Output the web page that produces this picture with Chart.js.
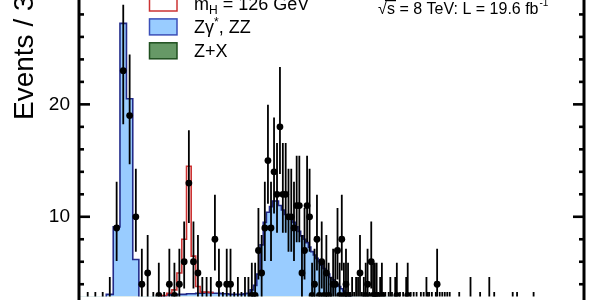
<!DOCTYPE html>
<html><head><meta charset="utf-8">
<script src="https://cdn.jsdelivr.net/npm/chart.js@4.4.0/dist/chart.umd.min.js"></script>
<style>html,body{margin:0;padding:0;background:#fff;overflow:hidden}</style>
</head><body>
<canvas id="c" width="600" height="300"></canvas>
<script>
// ---- binning of the m4l histogram (GeV) ----
const binStart = 70.5;
const binWidth = 3;

// ---- observed events per 3 GeV bin (bin i starts at 70.5 + 3*i GeV) ----
const dataCounts = [
  0,1,1,1,2,9,23,19,10,4,
  5,1,3,1,4,3,4,6,13,6,
  5,2,2,2,8,4,1,4,4,1,
  2,1,2,2,3,3,7,5,9,15,
  9,14,12,18,12,12,10,10,9,11,
  11,5,7,11,10,3,4,8,3,6,
  3,5,3,2,4,4,7,3,8,3,
  4,3,1,2,1,2,2,5,1,2,
  3,4,1,6,3,3,3,1,2,3,
  1,1,0,1,2,1,0,2,3,0,
  1,0,1,0,2,3,0,1,0,1,
  0,1,0,0,1,0,1,0,2,1,
  1,0,1,0,0,1,4,0,1,0,
  1,0,1,0,1,0,1,0,0,0,
  0,0,0,0,1,0,0,0,0,0,
  0,0,0,0,2,0,0,0,0,0,
  0,0,0,1,0,0,0,0,0,0,
  0,0,2,0,0,0,0,1,0,0,
  0,0,0,0,0,0,0,0,0,0,
  0,0,0,0,0,0,0,1,0,0,
  0,0,1,0,0,0,0,0,0,0,
  0,0,0,0,0,0,0,0,0,0,
  0,0,1,0,0,0,0
];

// ---- expected Zgamma*, ZZ per bin ----
const zzValues = [
  0.35,0.54,0.83,1.42,3.01,9.0,27.1,20.4,6.1,2.5,
  2.18,2.27,2.56,2.8,2.89,2.93,2.92,2.91,2.95,2.95,
  2.99,2.99,3.03,3.03,2.98,2.98,2.93,2.93,2.88,2.88,
  2.88,2.89,2.94,2.99,3.3,3.7,4.7,7.3,9.31,10.21,
  10.72,11.22,11.23,10.83,10.44,10.04,9.85,9.65,9.36,8.96,
  8.57,8.17,7.88,7.58,7.19,6.79,6.5,6.2,5.9,5.61,
  5.31,5.01,4.82,4.52,4.32,4.13,3.93,3.73,3.54,3.34,
  3.14,2.99,2.85,2.75,2.65,2.55,2.45,2.36,2.31,2.26,
  2.16,2.06,2.01,1.97,1.87,1.82,1.77,1.72,1.67,1.62,
  1.57,1.53,1.48,1.43,1.38,1.33,1.28,1.23,1.18,1.13
];

// ---- expected Z+X per bin ----
const zxValues = [
  0.05,0.06,0.07,0.08,0.09,0.1,0.1,0.1,0.1,0.1,
  0.12,0.13,0.14,0.15,0.16,0.17,0.18,0.19,0.2,0.2,
  0.21,0.21,0.22,0.22,0.22,0.22,0.22,0.22,0.22,0.22,
  0.22,0.21,0.21,0.21,0.2,0.2,0.2,0.2,0.19,0.19,
  0.18,0.18,0.17,0.17,0.16,0.16,0.15,0.15,0.14,0.14,
  0.13,0.13,0.12,0.12,0.11,0.11,0.1,0.1,0.1,0.09,
  0.09,0.09,0.08,0.08,0.08,0.07,0.07,0.07,0.06,0.06,
  0.06,0.06,0.05,0.05,0.05,0.05,0.05,0.04,0.04,0.04,
  0.04,0.04,0.04,0.03,0.03,0.03,0.03,0.03,0.03,0.03,
  0.03,0.02,0.02,0.02,0.02,0.02,0.02,0.02,0.02,0.02
];

// ---- expected mH = 126 GeV signal, from bin higgsFirstBin on ----
const higgsFirstBin = 12;
const higgsValues = [0.02,0.05,0.15,0.4,1.9,4.9,11.35,3.35,0.6,0.1,0.05,0.02];

// ---- axis ----
const yMajorTicks = [10, 20];
const yMinorTicks = [4, 6, 8, 12, 14, 16, 18, 22, 24, 26, 28];
const yTitle = 'Events / 3 GeV';
const energyText = ['√', 's = 8 TeV: L = 19.6 fb', '-1'];

// Garwood 68% Poisson intervals for n = 0..25
const garwood = [[0,1.841],[0.173,3.300],[0.708,4.638],[1.367,5.918],[2.086,7.163],[2.840,8.382],
  [3.620,9.584],[4.419,10.77],[5.232,11.95],[6.057,13.11],[6.891,14.27],[7.734,15.42],[8.585,16.56],
  [9.441,17.70],[10.30,18.83],[11.17,19.96],[12.04,21.08],[12.92,22.20],[13.80,23.32],[14.68,24.44],
  [15.57,25.55],[16.45,26.66],[17.35,27.76],[18.24,28.87],[19.14,29.97],[20.03,31.07]];

const FONT = '"Liberation Sans", Arial, sans-serif';
const edge = i => binStart + binWidth * i;

const bgTotal = zzValues.map((v, i) => v + zxValues[i]);
const zzPts = bgTotal.map((v, i) => ({x: edge(i), y: v}));
zzPts.push({x: edge(bgTotal.length), y: 0});
const zxPts = zxValues.map((v, i) => ({x: edge(i), y: v}));
zxPts.push({x: edge(zxValues.length), y: 0});
const higgsPts = higgsValues.map((v, k) => ({x: edge(higgsFirstBin + k), y: bgTotal[higgsFirstBin + k] + v}));
higgsPts.push({x: edge(higgsFirstBin + higgsValues.length), y: bgTotal[higgsFirstBin + higgsValues.length]});
const dataPts = dataCounts.map((n, i) => ({x: edge(i) + binWidth / 2, y: n > 0 ? n : null}));

const COL = {
  zzFill: '#99ccff', zzLine: '#232b8a',
  zxFill: '#669966', zxLine: '#1f4f1f',
  higgs: '#cc3333'
};

const decor = {
  id: 'decor',
  afterDatasetsDraw(chart) {
    const {ctx, chartArea: a, scales: {x, y}} = chart;
    ctx.save();
    ctx.beginPath(); ctx.rect(a.left, a.top, a.right - a.left, a.bottom - a.top); ctx.clip();
    ctx.strokeStyle = '#000'; ctx.lineWidth = 1.8;
    dataCounts.forEach((n, i) => {
      if (!n) return;
      const g = garwood[n] || [n - Math.sqrt(n), n + Math.sqrt(n)];
      const px = x.getPixelForValue(edge(i) + binWidth / 2);
      ctx.beginPath();
      ctx.moveTo(px, y.getPixelForValue(g[0]));
      ctx.lineTo(px, y.getPixelForValue(g[1]));
      ctx.stroke();
    });
    ctx.restore();
  },
  afterDraw(chart) {
    const {ctx, chartArea: a, scales: {y}} = chart;
    ctx.save();
    ctx.fillStyle = '#000';
    // frame lines
    ctx.fillRect(a.left - 1.5, 0, 3, chart.height);
    ctx.fillRect(a.right - 1.5, 0, 3, chart.height);
    // inward ticks
    const tick = (v, len) => {
      const py = y.getPixelForValue(v);
      ctx.fillRect(a.left, py - 1.3, len, 2.6);
      ctx.fillRect(a.right - len, py - 1.3, len, 2.6);
    };
    yMinorTicks.forEach(v => tick(v, 5));
    yMajorTicks.forEach(v => tick(v, 11));

    // y title
    ctx.save();
    ctx.translate(33, 120);
    ctx.rotate(-Math.PI / 2);
    ctx.font = '28px ' + FONT;
    ctx.textAlign = 'left'; ctx.textBaseline = 'alphabetic';
    ctx.fillText(yTitle, 0, 0);
    ctx.restore();

    // energy / lumi label
    ctx.font = '16px ' + FONT;
    ctx.textBaseline = 'alphabetic';
    ctx.fillText(energyText[0], 378, 14);
    ctx.fillRect(385, 0, 11, 1.2);
    ctx.fillText(energyText[1], 387, 14);
    const w = ctx.measureText(energyText[1]).width;
    ctx.font = '10px ' + FONT;
    ctx.fillText(energyText[2], 387 + w + 1, 6);

    // legend
    const ds = chart.data.datasets;
    const entries = [
      {fill: '#ffffff', stroke: ds[1].borderColor, parts: [['m', 18, 0], ['H', 12, 4], [' = 126 GeV', 18, 0]]},
      {fill: ds[3].backgroundColor, stroke: '#3b4fb8', parts: [['Zγ', 18, 0], ['*', 12, -7], [', ZZ', 18, 0]]},
      {fill: ds[2].backgroundColor, stroke: ds[2].borderColor, parts: [['Z+X', 18, 0]]}
    ];
    entries.forEach((e, k) => {
      const base = 9.5 + 23.9 * k;
      ctx.fillStyle = e.fill;
      ctx.fillRect(149.5, base - 14.5, 27.5, 16);
      ctx.strokeStyle = e.stroke; ctx.lineWidth = 1.5;
      ctx.strokeRect(149.5, base - 14.5, 27.5, 16);
      ctx.fillStyle = '#000';
      let tx = 194;
      e.parts.forEach(([t, s, dy]) => {
        ctx.font = s + 'px ' + FONT;
        ctx.fillText(t, tx, base + dy);
        tx += ctx.measureText(t).width;
      });
    });
    ctx.restore();
  }
};

new Chart(document.getElementById('c'), {
  type: 'line',
  data: {
    datasets: [
      {label: 'Data', data: dataPts, showLine: false, pointRadius: 3.4, pointHoverRadius: 3.4,
       pointBackgroundColor: '#000', pointBorderColor: '#000', pointBorderWidth: 0, order: 0},
      {label: 'mH = 126 GeV', data: higgsPts, stepped: true, borderColor: COL.higgs, borderWidth: 1.6,
       pointRadius: 0, fill: false, order: 1},
      {label: 'Z+X', data: zxPts, stepped: true, borderColor: COL.zxLine, borderWidth: 1.5,
       backgroundColor: COL.zxFill, fill: 'origin', pointRadius: 0, order: 2},
      {label: 'Zγ*, ZZ', data: zzPts, stepped: true, borderColor: COL.zzLine, borderWidth: 1.6,
       backgroundColor: COL.zzFill, fill: 'origin', pointRadius: 0, order: 3}
    ]
  },
  options: {
    responsive: false, maintainAspectRatio: false, animation: false,
    layout: {padding: {left: 0, right: 16, top: 0, bottom: 0}},
    plugins: {legend: {display: false}, tooltip: {enabled: false}},
    scales: {
      x: {type: 'logarithmic', min: 71.73, max: 955.6, display: false},
      y: {
        type: 'linear', min: 2.9, max: 28.98,
        grid: {display: false, drawTicks: false}, border: {display: false},
        ticks: {color: '#000', font: {family: 'Liberation Sans', size: 19}, padding: 9},
        afterBuildTicks(s) { s.ticks = yMajorTicks.map(v => ({value: v})); },
        afterFit(s) { s.width = 79; s.paddingTop = 0; s.paddingBottom = 0; }
      }
    }
  },
  plugins: [decor]
});
</script>
</body></html>
